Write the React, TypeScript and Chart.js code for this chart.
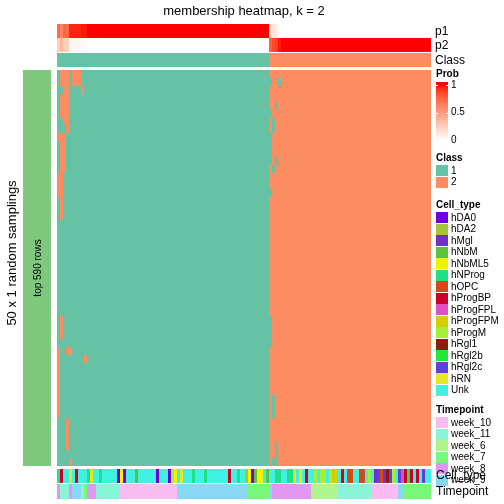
import React, { useEffect, useRef } from "react";
import { Chart, registerables } from "chart.js";
Chart.register(...registerables);

// ---------- DATA ----------
// consensus class per column (sample)
const classes: number[] = [
  1,1,1,1,1,1,1,1,1,1, 1,1,1,1,1,1,1,1,1,1, 1,1,1,1,1,1,1,1,1,1,
  1,1,1,1,1,1,1,1,1,1, 1,1,1,1,1,1,1,1,1,1, 1,1,1,1,1,1,1,1,1,1,
  1,1,1,1,1,1,1,1,1,1, 1,2,2,2,2,2,2,2,2,2, 2,2,2,2,2,2,2,2,2,2,
  2,2,2,2,2,2,2,2,2,2, 2,2,2,2,2,2,2,2,2,2, 2,2,2,2,2,2,2,2,2,2,
  2,2,2,2,2,
];

const p1Values: number[] = [
  0.74,0.62,0.76,0.74,0.96,0.96,0.96,0.96,0.98,0.98,
  1,1,1,1,1,1,1,1,1,1, 1,1,1,1,1,1,1,1,1,1, 1,1,1,1,1,1,1,1,1,1,
  1,1,1,1,1,1,1,1,1,1, 1,1,1,1,1,1,1,1,1,1, 1,1,1,1,1,1,1,1,1,1,
  1,0.22,0.14,0.10,0.02,0,0,0,0,0,
  0,0,0,0,0,0,0,0,0,0, 0,0,0,0,0,0,0,0,0,0, 0,0,0,0,0,0,0,0,0,0,
  0,0,0,0,0,0,0,0,0,0, 0,0,0,0,0,
];

const p2Values: number[] = [
  0.26,0.38,0.24,0.26,0.04,0.04,0.04,0.04,0.02,0.02,
  0,0,0,0,0,0,0,0,0,0, 0,0,0,0,0,0,0,0,0,0, 0,0,0,0,0,0,0,0,0,0,
  0,0,0,0,0,0,0,0,0,0, 0,0,0,0,0,0,0,0,0,0, 0,0,0,0,0,0,0,0,0,0,
  0,0.78,0.86,0.90,0.98,1,1,1,1,1,
  1,1,1,1,1,1,1,1,1,1, 1,1,1,1,1,1,1,1,1,1, 1,1,1,1,1,1,1,1,1,1,
  1,1,1,1,1,1,1,1,1,1, 1,1,1,1,1,
];

// per random sampling (row): columns whose class differs from the consensus
const samplingFlips: number[][] = [
  [1,2,3,5,6,7], [1,2,3,5,6,7,71,74], [2,3,8], [1,2,3], [1,2,3,73],
  [1,2,3,71], [2,3,72], [3,72], [0,1,2,71], [1,2,71],
  [1,2,71], [1,2,71,73], [1,2,72], [0,1], [0,1],
  [0,1,71], [1], [1], [1], [],
  [], [], [], [], [],
  [], [], [], [], [],
  [], [1,71], [1,71], [1,71], [71],
  [0,3,4], [0,9], [0], [0], [0],
  [0], [0,72], [0,72], [0,72], [3],
  [3], [3], [3,73], [73], [4,72,73],
];

const cellTypes: string[] = [
  "hNProg","hProgBP","Unk","Unk","hRN","Unk","hProgBP","Unk","Unk","Unk",
  "hNProg","hRN","Unk","Unk","hNProg","Unk","Unk","Unk","Unk","Unk",
  "hDA0","hNbML5","hDA0","Unk","Unk","Unk","hNbM","Unk","Unk","Unk",
  "Unk","Unk","Unk","hDA0","Unk","Unk","Unk","hDA0","hProgM","hNbML5",
  "Unk","hRN","Unk","Unk","Unk","hNProg","Unk","Unk","Unk","hNProg",
  "Unk","Unk","Unk","Unk","Unk","Unk","Unk","hProgBP","Unk","Unk",
  "hNProg","Unk","Unk","hDA2","hNbML5","hDA0","hNbM","hNbML5","hNbML5","Unk",
  "hNbM","Unk","Unk","hNProg","hNProg","Unk","Unk","hNProg","hNProg","hRN",
  "Unk","hRN","Unk","hProgBP","Unk","Unk","hProgM","Unk","hProgM","hProgM",
  "Unk","hProgM","hProgFPM","hProgFPM","Unk","hProgBP","Unk","hOPC","hOPC","Unk",
  "Unk","hOPC","hOPC","Unk","hProgM","Unk","hMgl","hRgl2c","hOPC","hMgl",
  "hRgl1","hRgl2c","hProgM","Unk","hRgl2c","hProgFPL","hProgBP","hRgl2b","hProgBP","Unk",
  "hProgBP","Unk","hRgl2c","Unk","Unk",
];

const timepoints: string[] = [
  "week_8","week_11","week_11","week_11","week_8","week_9","week_9","week_9","week_11","week_7",
  "week_8","week_8","week_8","week_11","week_11","week_11","week_11","week_11","week_11","week_11",
  "week_11","week_10","week_10","week_10","week_10","week_10","week_10","week_10","week_10","week_10",
  "week_10","week_10","week_10","week_10","week_10","week_10","week_10","week_10","week_10","week_10",
  "week_9","week_9","week_9","week_9","week_9","week_9","week_9","week_9","week_9","week_9",
  "week_9","week_9","week_9","week_9","week_9","week_9","week_9","week_9","week_9","week_9",
  "week_9","week_9","week_9","week_9","week_7","week_7","week_7","week_7","week_7","week_7",
  "week_7","week_9","week_8","week_8","week_8","week_8","week_8","week_8","week_8","week_8",
  "week_8","week_8","week_8","week_8","week_8","week_6","week_6","week_6","week_6","week_6",
  "week_6","week_6","week_6","week_6","week_11","week_11","week_11","week_11","week_11","week_11",
  "week_11","week_11","week_11","week_11","week_11","week_10","week_10","week_10","week_10","week_10",
  "week_10","week_10","week_10","week_10","week_9","week_9","week_7","week_7","week_7","week_7",
  "week_7","week_7","week_7","week_7","week_7",
];

const classLevels = ["1", "2"];
const cellTypeLevels = ["hDA0","hDA2","hMgl","hNbM","hNbML5","hNProg","hOPC","hProgBP","hProgFPL","hProgFPM","hProgM","hRgl1","hRgl2b","hRgl2c","hRN","Unk"];
const timepointLevels = ["week_10","week_11","week_6","week_7","week_8","week_9"];
const probTicks = [1, 0.5, 0];

// ---------- STYLE ----------
const classColors: Record<string, string> = { "1": "#66C2A5", "2": "#FC8D62" };
const cellTypeColors: Record<string, string> = {
  hDA0: "#6E00DC", hDA2: "#A8C43C", hMgl: "#7232C0", hNbM: "#60C040", hNbML5: "#F2F200",
  hNProg: "#20E088", hOPC: "#D24A18", hProgBP: "#C8002C", hProgFPL: "#E050C0",
  hProgFPM: "#D4D000", hProgM: "#A2F03A", hRgl1: "#901A12", hRgl2b: "#22E83A",
  hRgl2c: "#6040D8", hRN: "#E6E622", Unk: "#40F0E0",
};
const timepointColors: Record<string, string> = {
  week_10: "#F8BCF0", week_11: "#88F4D8", week_6: "#B0F490", week_7: "#78F878",
  week_8: "#E098F0", week_9: "#88D8F4",
};
const FONT = '"Liberation Sans", Arial, Helvetica, sans-serif';

// white -> red interpolation in LAB space
function srgbToLin(c: number) { c /= 255; return c <= 0.04045 ? c / 12.92 : Math.pow((c + 0.055) / 1.055, 2.4); }
function linToSrgb(c: number) { c = Math.max(0, Math.min(1, c)); return Math.round(255 * (c <= 0.0031308 ? 12.92 * c : 1.055 * Math.pow(c, 1 / 2.4) - 0.055)); }
function rgbToLab(r: number, g: number, b: number) {
  const R = srgbToLin(r), G = srgbToLin(g), B = srgbToLin(b);
  const X = (0.4124 * R + 0.3576 * G + 0.1805 * B) / 0.95047;
  const Y = 0.2126 * R + 0.7152 * G + 0.0722 * B;
  const Z = (0.0193 * R + 0.1192 * G + 0.9505 * B) / 1.08883;
  const f = (t: number) => (t > 0.008856 ? Math.cbrt(t) : 7.787 * t + 16 / 116);
  const fx = f(X), fy = f(Y), fz = f(Z);
  return [116 * fy - 16, 500 * (fx - fy), 200 * (fy - fz)];
}
function labToRgb(L: number, a: number, b: number) {
  const fy = (L + 16) / 116, fx = fy + a / 500, fz = fy - b / 200;
  const inv = (t: number) => (t ** 3 > 0.008856 ? t ** 3 : (t - 16 / 116) / 7.787);
  const X = inv(fx) * 0.95047, Y = inv(fy), Z = inv(fz) * 1.08883;
  const R = 3.2406 * X - 1.5372 * Y - 0.4986 * Z;
  const G = -0.9689 * X + 1.8758 * Y + 0.0415 * Z;
  const B = 0.0557 * X - 0.204 * Y + 1.057 * Z;
  return `rgb(${linToSrgb(R)},${linToSrgb(G)},${linToSrgb(B)})`;
}
const LAB_W = rgbToLab(255, 255, 255);
const LAB_R = rgbToLab(255, 0, 0);
function probColor(v: number) {
  return labToRgb(
    LAB_W[0] + (LAB_R[0] - LAB_W[0]) * v,
    LAB_W[1] + (LAB_R[1] - LAB_W[1]) * v,
    LAB_W[2] + (LAB_R[2] - LAB_W[2]) * v
  );
}

const heatmapPlugin = {
  id: "membershipHeatmap",
  afterDraw(chart: any) {
    const ctx: CanvasRenderingContext2D = chart.ctx;
    const xs = chart.scales.x;
    const ys = chart.scales.y;
    const px = (v: number) => Math.round(xs.getPixelForValue(v));
    const py = (v: number) => Math.round(ys.getPixelForValue(v));
    const nCol = classes.length;
    ctx.save();

    // main heatmap cells
    samplingFlips.forEach((flips, r) => {
      for (let c = 0; c < nCol; c++) {
        const base = classes[c];
        const cls = flips.includes(c) ? 3 - base : base;
        ctx.fillStyle = classColors[String(cls)];
        ctx.fillRect(px(c), py(r), px(c + 1) - px(c), py(r + 1) - py(r));
      }
    });

    // column annotations
    const band = (y0: number, y1: number, color: (c: number) => string) => {
      for (let c = 0; c < nCol; c++) {
        ctx.fillStyle = color(c);
        ctx.fillRect(px(c), y0, px(c + 1) - px(c), y1 - y0);
      }
    };
    band(24, 38, (c) => probColor(p1Values[c]));
    band(38, 52, (c) => probColor(p2Values[c]));
    band(53, 67, (c) => classColors[String(classes[c])]);
    band(469, 483, (c) => cellTypeColors[cellTypes[c]]);
    band(484, 499, (c) => timepointColors[timepoints[c]]);

    // left row-group bar
    ctx.fillStyle = "#7FC97F";
    ctx.fillRect(23, py(0), 28, py(samplingFlips.length) - py(0));

    // texts
    ctx.fillStyle = "#000";
    ctx.textBaseline = "middle";
    ctx.textAlign = "center";
    ctx.font = `13px ${FONT}`;
    ctx.fillText("membership heatmap, k = 2", (px(0) + px(nCol)) / 2, 11);

    ctx.save();
    ctx.translate(12, 253);
    ctx.rotate(-Math.PI / 2);
    ctx.font = `13px ${FONT}`;
    ctx.fillText("50 x 1 random samplings", 0, 0);
    ctx.restore();

    ctx.save();
    ctx.translate(38.5, (py(0) + py(samplingFlips.length)) / 2);
    ctx.rotate(-Math.PI / 2);
    ctx.font = `10px ${FONT}`;
    ctx.fillText("top 590 rows", 0, 0);
    ctx.restore();

    ctx.textAlign = "left";
    ctx.font = `12px ${FONT}`;
    ctx.fillText("p1", 435, 32);
    ctx.fillText("p2", 435, 46);
    ctx.fillText("Class", 435, 61);

    // legends
    const LX = 436;
    ctx.font = `bold 10px ${FONT}`;
    ctx.fillText("Prob", LX, 74);
    const yTop = 85, yBot = 140;
    for (let y = 82; y <= yBot; y++) {
      const v = Math.max(0, Math.min(1, (yBot - y) / (yBot - yTop)));
      ctx.fillStyle = probColor(v);
      ctx.fillRect(LX, y, 12, 1);
    }
    ctx.fillStyle = "#fff";
    probTicks.forEach((t) => {
      const y = Math.round(yBot - t * (yBot - yTop));
      ctx.fillRect(LX, y, 2, 1);
      ctx.fillRect(LX + 10, y, 2, 1);
    });
    ctx.fillStyle = "#000";
    ctx.font = `10px ${FONT}`;
    probTicks.forEach((t) => {
      ctx.fillText(String(t), LX + 15, yBot - t * (yBot - yTop));
    });

    const step = 11.5;
    const drawDiscrete = (title: string, titleY: number, levels: string[], colors: Record<string, string>) => {
      ctx.fillStyle = "#000";
      ctx.font = `bold 10px ${FONT}`;
      ctx.fillText(title, LX, titleY);
      ctx.font = `10px ${FONT}`;
      levels.forEach((lv, i) => {
        const top = titleY + 7 + i * step;
        ctx.fillStyle = colors[lv];
        ctx.fillRect(LX, Math.round(top), 12, Math.round(step) - 1);
        ctx.fillStyle = "#000";
        ctx.fillText(lv, LX + 15, top + step / 2);
      });
    };
    drawDiscrete("Class", 158, classLevels, classColors);
    drawDiscrete("Cell_type", 205, cellTypeLevels, cellTypeColors);
    drawDiscrete("Timepoint", 410, timepointLevels, timepointColors);

    ctx.fillStyle = "#000";
    ctx.font = `12px ${FONT}`;
    ctx.fillText("Cell_type", 436, 476);
    ctx.fillText("Timepoint", 436, 492);

    ctx.restore();
  },
};

export default function App() {
  const ref = useRef<HTMLCanvasElement | null>(null);
  useEffect(() => {
    document.body.style.margin = "0";
    if (!ref.current) return;
    const chart = new Chart(ref.current, {
      type: "scatter",
      data: { datasets: [{ data: [] }] },
      options: {
        animation: false,
        responsive: false,
        devicePixelRatio: 1,
        layout: { padding: { left: 57, right: 73, top: 70, bottom: 38 } },
        plugins: { legend: { display: false }, tooltip: { enabled: false }, title: { display: false } },
        scales: {
          x: { type: "linear", min: 0, max: classes.length, display: false },
          y: { type: "linear", min: 0, max: samplingFlips.length, reverse: true, display: false },
        },
      },
      plugins: [heatmapPlugin],
    });
    return () => chart.destroy();
  }, []);
  return (
    <div style={{ width: 504, height: 504, background: "#fff" }}>
      <canvas ref={ref} width={504} height={504} style={{ display: "block" }} />
    </div>
  );
}
